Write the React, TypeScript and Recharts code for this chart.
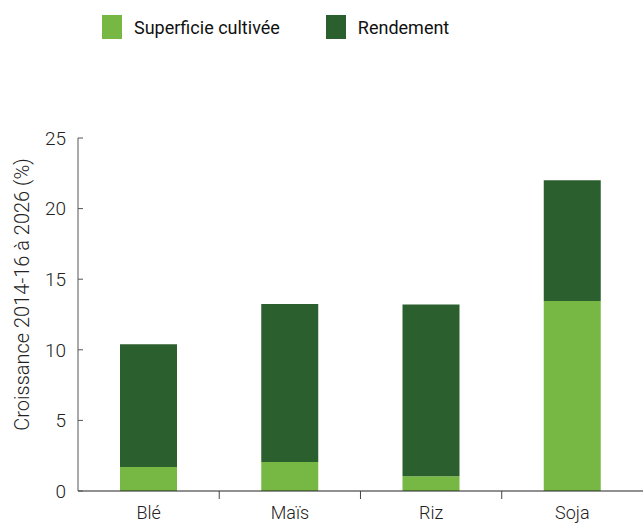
import { Bar, BarChart, Legend, XAxis, YAxis } from 'recharts';

const crops = ['Blé', 'Maïs', 'Riz', 'Soja'];
const superficie = [1.7, 2.05, 1.05, 13.45];
const rendement = [8.7, 11.2, 12.15, 8.55];
const yTicks = [0, 5, 10, 15, 20, 25];

const data = crops.map((crop, i) => ({
  crop,
  superficie: superficie[i],
  rendement: rendement[i],
}));

const LIGHT = '#76b843';
const DARK = '#2c5f2e';
const FONT = 'Roboto, "DejaVu Sans Condensed", sans-serif';

const legendItems = [
  { label: 'Superficie cultivée', color: LIGHT },
  { label: 'Rendement', color: DARK },
];

function TopLegend() {
  return (
    <div style={{ display: 'flex', gap: 46, paddingLeft: 102, height: 24, fontFamily: FONT, fontSize: 18, color: '#111' }}>
      {legendItems.map((it) => (
        <div key={it.label} style={{ display: 'flex', alignItems: 'center', gap: 12 }}>
          <span style={{ width: 20, height: 24, background: it.color, display: 'inline-block' }} />
          <span>{it.label}</span>
        </div>
      ))}
    </div>
  );
}

// category label plus a small tick at the right boundary of its band
function CropTick(props: any) {
  const { x, y, payload, index } = props;
  const half = 70.6;
  return (
    <g>
      {index < crops.length - 1 && (
        <line x1={x + half} x2={x + half} y1={y - 8} y2={y} stroke="#444" strokeWidth={1} />
      )}
      <text x={x} y={y + 20} textAnchor="middle" fontFamily={FONT} fontWeight={300} fontSize={18} fill="#222">
        {payload.value}
      </text>
    </g>
  );
}

export default function App() {
  return (
    <div style={{ position: 'absolute', left: 0, top: 0 }}>
      <BarChart width={643} height={523} data={data} margin={{ top: 114, right: 0, bottom: 0, left: 0 }} barSize={57}>
        <Legend
          verticalAlign="top"
          align="left"
          content={() => <TopLegend />}
          wrapperStyle={{ position: 'absolute', top: 15, left: 0, width: 643 }}
        />
        <XAxis
          dataKey="crop"
          height={32}
          axisLine={{ stroke: '#222' }}
          tickLine={false}
          tick={<CropTick />}
        />
        <YAxis
          width={78}
          domain={[0, 25]}
          ticks={yTicks}
          axisLine={{ stroke: '#555' }}
          tickLine={{ stroke: '#555' }}
          tickSize={-5}
          tickMargin={17}
          tick={{ fontFamily: FONT, fontWeight: 300, fontSize: 19, fill: '#222' }}
          label={{
            value: 'Croissance 2014-16 à 2026 (%)',
            angle: -90,
            position: 'insideLeft',
            dx: 17,
            dy: -20,
            style: { fontFamily: FONT, fontWeight: 300, fontSize: 20, fill: '#222', textAnchor: 'middle' },
          }}
        />
        <Bar dataKey="superficie" stackId="a" fill={LIGHT} isAnimationActive={false} />
        <Bar dataKey="rendement" stackId="a" fill={DARK} isAnimationActive={false} />
      </BarChart>
    </div>
  );
}
